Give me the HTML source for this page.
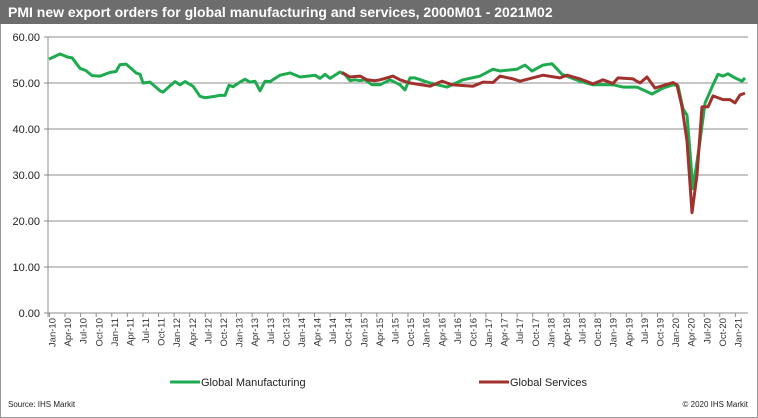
<!DOCTYPE html>
<html><head><meta charset="utf-8"><style>
body{margin:0;background:#fff}
svg{display:block;font-family:"Liberation Sans",Arial,sans-serif}
</style></head><body>
<svg id="s" width="758" height="418" viewBox="0 0 758 418" xmlns="http://www.w3.org/2000/svg">
<rect x="0.5" y="0.5" width="757" height="417" fill="#fff" stroke="#999"/>
<rect x="0" y="0" width="758" height="24" fill="#6d6d6d"/>
<text x="8" y="17" fill="#fff" font-size="14" font-weight="bold">PMI new export orders for global manufacturing and services, 2000M01 - 2021M02</text>
<g id="grid" stroke="#8c8c8c" stroke-width="1"></g>
<g id="ylab" font-size="11" fill="#222" text-anchor="end"></g>
<g id="xlab" font-size="9.5" fill="#333"></g>
<polyline id="g" fill="none" stroke="#1eaa4e" stroke-width="3" stroke-linejoin="round"/>
<polyline id="r" fill="none" stroke="#a0312d" stroke-width="3" stroke-linejoin="round"/>
<line x1="170" y1="382" x2="200" y2="382" stroke="#1eaa4e" stroke-width="3"/>
<text x="201" y="386" font-size="11" fill="#222">Global Manufacturing</text>
<line x1="479" y1="382" x2="509" y2="382" stroke="#a0312d" stroke-width="3"/>
<text x="510" y="386" font-size="11" fill="#222">Global Services</text>
<text x="8" y="407" font-size="8" fill="#222">Source: IHS Markit</text>
<text x="748" y="407" font-size="8" fill="#222" text-anchor="end">© 2020 IHS Markit</text>
</svg>
<script>
var ns="http://www.w3.org/2000/svg";
function el(t,a,p,txt){var e=document.createElementNS(ns,t);for(var k in a)e.setAttribute(k,a[k]);if(txt)e.textContent=txt;document.getElementById(p).appendChild(e);return e;}
function Y(v){return 313-v*4.6;}
for(var i=0;i<=6;i++){var y=Y(i*10);
 el("line",{x1:44,x2:748,y1:y,y2:y},"grid");
 el("text",{x:40,y:y+4},"ylab",(i*10).toFixed(2));}
el("line",{x1:48,x2:48,y1:37,y2:317},"grid");
var m=["Jan","Apr","Jul","Oct"];
for(var i=0;i<45;i++){var x=52+i*15.59;
 el("line",{x1:x-2.6,x2:x-2.6,y1:313,y2:317},"grid");
 var lab=m[i%4]+"-"+(10+Math.floor(i/4));
 el("text",{x:0,y:0,transform:"translate("+(x+3.5)+",318) rotate(-90)","text-anchor":"end"},"xlab",lab);}
var G=[[49,55.2],[60,56.3],[68,55.6],[72,55.5],[80,53.2],[86,52.7],[92,51.6],[100,51.5],[110,52.3],[116,52.5],[120,54],[126,54.1],[132,53],[136,52.2],[140,51.9],[143,50],[150,50.2],[160,48.3],[163,48],[170,49.4],[175,50.3],[180,49.6],[185,50.3],[193,49.3],[200,47.1],[205,46.8],[212,47],[220,47.3],[225,47.3],[229,49.5],[233,49.2],[240,50.2],[245,50.8],[250,50.2],[255,50.4],[260,48.3],[265,50.4],[270,50.3],[280,51.7],[290,52.2],[300,51.3],[308,51.5],[315,51.7],[320,51],[325,51.9],[330,51],[340,52.4],[345,51.8],[350,50.5],[355,50.7],[360,50.5],[365,50.7],[372,49.6],[380,49.6],[390,50.7],[400,49.6],[405,48.5],[410,51.1],[415,51.1],[430,50],[447,49.1],[463,50.7],[480,51.5],[493,53],[500,52.6],[517,53],[525,53.9],[532,52.6],[543,53.9],[552,54.2],[562,51.9],[580,50.4],[593,49.6],[613,49.6],[623,49.1],[637,49.1],[652,47.6],[663,48.9],[673,49.6],[678,49.4],[683,44.4],[687,43],[693,27],[700,37.4],[705,45.6],[713,49.6],[718,51.9],[723,51.5],[728,52],[735,51.1],[742,50.4],[745,51.1]];
var R=[[342,52.3],[350,51.3],[360,51.5],[367,50.7],[375,50.5],[380,50.7],[393,51.5],[400,50.7],[410,50],[430,49.3],[442,50.4],[452,49.6],[473,49.3],[483,50.2],[493,50.1],[500,51.5],[513,50.9],[520,50.4],[543,51.7],[560,51.1],[567,51.7],[580,50.9],[593,49.8],[603,50.7],[613,49.9],[618,51.1],[633,50.9],[640,50],[647,51.3],[655,48.9],[673,50.1],[677,49.6],[682,44.8],[687,37.4],[692,21.8],[697,30],[702,44.8],[708,44.8],[713,47.2],[723,46.4],[730,46.4],[735,45.7],[740,47.4],[745,47.8]];
function pts(a){return a.map(function(p){return p[0]+","+Y(p[1]).toFixed(1)}).join(" ");}
document.getElementById("g").setAttribute("points",pts(G));
document.getElementById("r").setAttribute("points",pts(R));
</script>
</body></html>
